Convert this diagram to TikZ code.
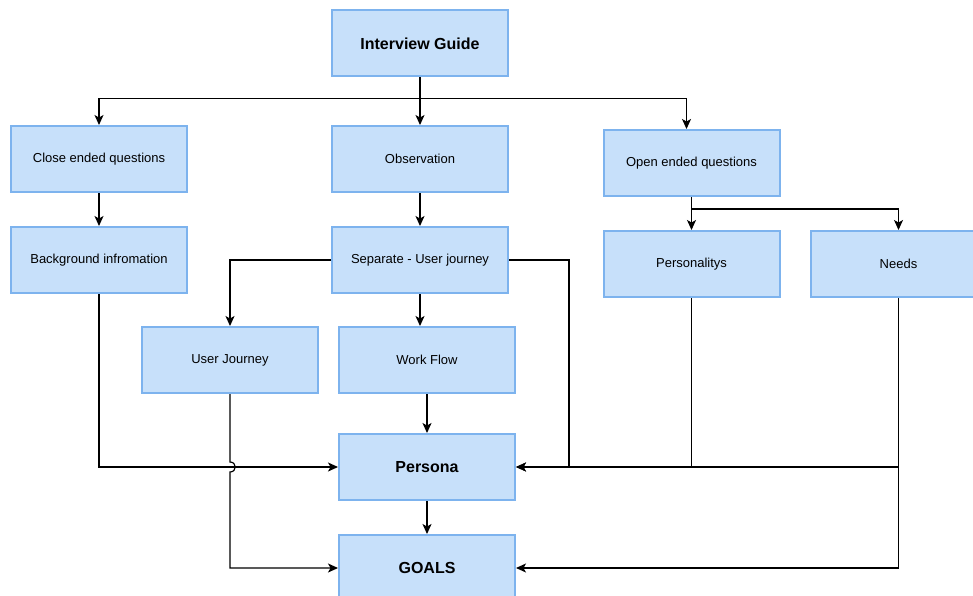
\documentclass[tikz,border=0pt]{standalone}
\usepackage{fontspec}
\setmainfont{Liberation Sans}
\usetikzlibrary{arrows.meta,positioning,calc}
\definecolor{boxfill}{HTML}{C7E0FA}
\definecolor{boxline}{HTML}{7DB3EE}

\begin{document}
\begin{tikzpicture}[
      x=1pt, y=-1pt,
      node distance=33pt and 29pt,
      box/.style={rectangle, draw=boxline, fill=boxfill, line width=2pt, minimum width=176pt, minimum height=66pt, align=center, font=\fontsize{13}{15}\selectfont},
      title/.style={box, font=\fontsize{16}{19}\selectfont\bfseries},
      arr/.style={-{Stealth[length=10pt, width=9pt, inset=2.5pt]}, line width=1.2pt},
      wire/.style={line width=1.2pt},
    ]
    \clip (0,0) rectangle (973,596);
    \node[title] (guide) at (420,43.5) {Interview Guide};
    \node[box] (close) at (99,159) {Close ended questions};
    \node[box] (obs) at (420,159) {Observation};
    \node[box] (open) at (691.5,163) {Open ended questions};
    \node[box, below=of close] (bg) {Background infromation};
    \node[box, below=of obs] (sep) {Separate - User journey};
    \node[box, below=of open] (pers) {Personalitys};
    \node[box, right=of pers] (needs) {Needs};
    \node[box] (uj) at (230,360) {User Journey};
    \node[box] (wf) at (427,360) {Work Flow};
    \node[title] (persona) at (427,467) {Persona};
    \node[title, below=of persona] (goals) {GOALS};
    % top level split
    \coordinate (split) at ($(guide.south)+(0,21)$);
    \draw[wire] (guide.south) -- (split);
    \draw[arr] (split) -| (close.north);
    \draw[arr] (split) -- (obs.north);
    \draw[arr] (split) -| ($(open.north)+(-5,0)$);
    \draw[arr] (close) -- (bg);
    \draw[arr] (obs) -- (sep);
    % open ended branch
    \coordinate (split2) at ($(open.south)+(0,12)$);
    \draw[arr] (open) -- (pers);
    \draw[arr] (split2) -| (needs.north);
    % user journey branch
    \draw[arr] (sep.west) -| (uj.north);
    \draw[arr] (sep.south) -- (sep.south |- wf.north);
    \draw[arr] (sep.east) -- ++(60,0) |- (persona.east);
    \draw[arr] (wf) -- (persona);
    \draw[arr] (bg.south) |- (persona.west);
    \coordinate (hop) at (uj.south |- persona.west);
    \draw[arr] (uj.south) -- ($(hop)+(0,-5)$) .. controls ($(hop)+(7,-5)$) and ($(hop)+(7,5)$) .. ($(hop)+(0,5)$) |- (goals.west);
    % into persona and goals
    \draw[wire] (pers.south) -- (pers.south |- persona.east);
    \draw[arr] (needs.south |- persona.east) -- (persona.east);
    \draw[arr] (needs.south) |- (goals.east);
    \draw[arr] (persona) -- (goals);
  \end{tikzpicture}
\end{document}
